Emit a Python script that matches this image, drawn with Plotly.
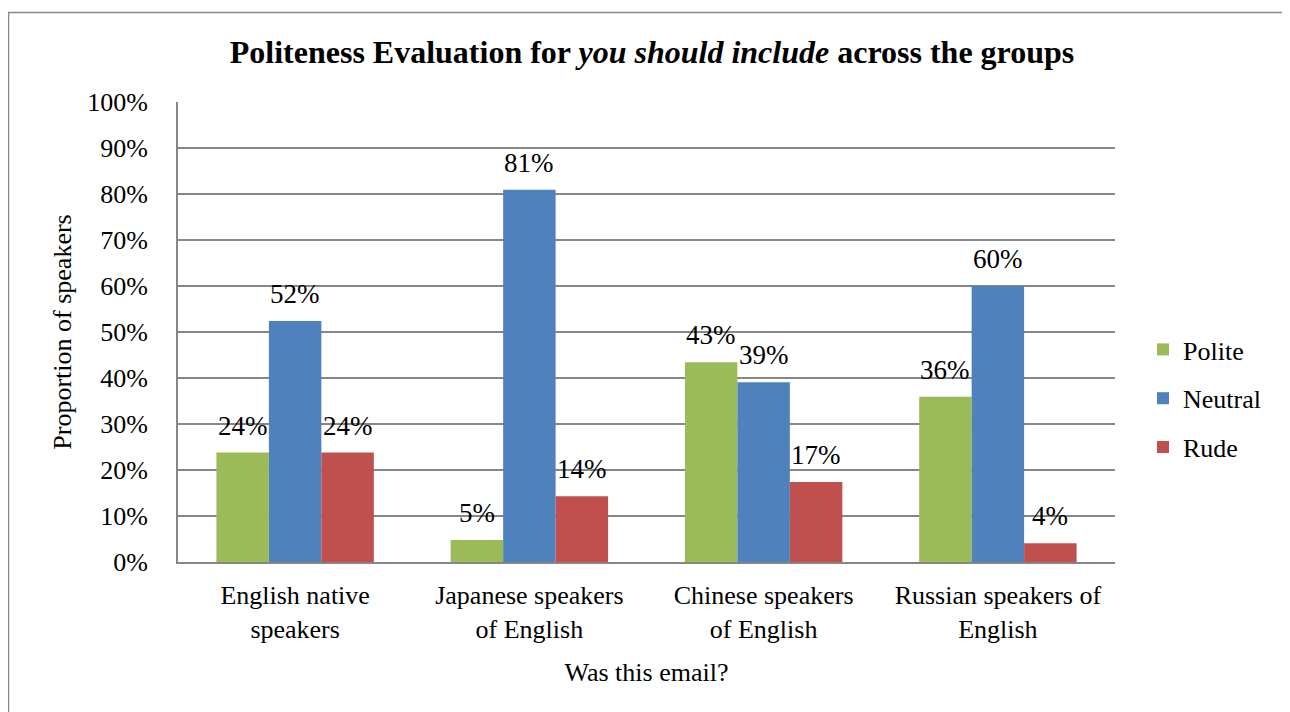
import plotly.graph_objects as go

categories = ["English native<br>speakers", "Japanese speakers<br>of English",
              "Chinese speakers<br>of English", "Russian speakers of<br>English"]
polite = [23.8, 4.8, 43.4, 35.9]
neutral = [52.4, 80.9, 39.1, 60.0]
rude = [23.8, 14.3, 17.4, 4.1]
series_names = ["Polite", "Neutral", "Rude"]
colors = ["#9BBB59", "#4F81BD", "#C0504D"]
y_ticks = list(range(0, 101, 10))
y_tick_labels = [f"{v}%" for v in y_ticks]

FONT = "Times New Roman, Liberation Serif, DejaVu Serif, serif"

# page offset of 8px (body margin) compensated
OFF = 8
W, H = 1290, 712
L, R, T, B = 178 - OFF, 1290 - 1115 + OFF, 102 - OFF, 712 - 562 + OFF
pw, ph = W - L - R, H - T - B
BARGAP = 0.328

def px(x):
    return (x - OFF - L) / pw

def py(y):
    return (H - B - (y - OFF)) / ph

fig = go.Figure()
all_series = [polite, neutral, rude]
bar_px = pw / len(categories) * (1 - BARGAP) / len(all_series)
annotations = []
for i, (name, vals, col) in enumerate(zip(series_names, all_series, colors)):
    fig.add_trace(go.Bar(
        name=name, x=categories, y=vals, marker_color=col, marker_line_width=0,
        legendgroup=name,
    ))
    shift = (i - (len(all_series) - 1) / 2) * bar_px
    for cat, v in zip(categories, vals):
        annotations.append(dict(
            x=cat, y=v, xref="x", yref="y", text=f"{round(v)}%", showarrow=False,
            xanchor="center", yanchor="bottom", xshift=shift, yshift=10,
            font=dict(family=FONT, size=27, color="black"),
        ))

fig.update_layout(
    width=W, height=H,
    margin=dict(l=L, r=R, t=T, b=B),
    paper_bgcolor="white", plot_bgcolor="white",
    barmode="group", bargap=BARGAP, bargroupgap=0,
    font=dict(family=FONT, size=26, color="black"),
    title=dict(text="<b>Politeness Evaluation for <i>you should include</i> across the groups</b>",
               x=(652 - OFF) / W, xanchor="center", y=1 - (52 - OFF) / H, yanchor="middle",
               font=dict(family=FONT, size=32, color="black")),
    legend=dict(x=px(1143), xanchor="left", y=py(349) + 0.05, yanchor="top",
                tracegroupgap=12,
                font=dict(family=FONT, size=26), bgcolor="rgba(0,0,0,0)"),
    xaxis=dict(showline=True, linecolor="#868686", linewidth=2, ticks="",
               tickfont=dict(family=FONT, size=26), ticklabelstandoff=9,
               title=dict(text="Was this email?", font=dict(family=FONT, size=26), standoff=20)),
    yaxis=dict(range=[0, 100], tickvals=y_ticks, ticktext=y_tick_labels,
               showline=True, linecolor="#868686", linewidth=2,
               showgrid=True, gridcolor="#868686", gridwidth=2, ticks="",
               ticklabelstandoff=23,
               zeroline=False, tickfont=dict(family=FONT, size=26),
               title=dict(text="Proportion of speakers", font=dict(family=FONT, size=26), standoff=8)),
    annotations=annotations,
    shapes=[dict(type="rect", xref="paper", yref="paper",
                 x0=px(8.5), x1=px(1310), y0=py(730), y1=py(12.5),
                 line=dict(color="#868686", width=1.5), fillcolor="rgba(0,0,0,0)", layer="below")],
)

fig.write_html("out.html")
